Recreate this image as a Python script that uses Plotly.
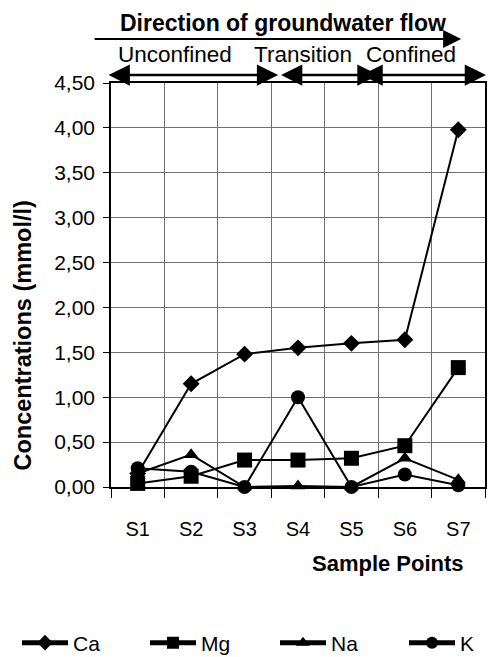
import plotly.graph_objects as go

samples = ["S1", "S2", "S3", "S4", "S5", "S6", "S7"]
ca = [0.15, 1.15, 1.48, 1.55, 1.60, 1.64, 3.98]
mg = [0.04, 0.12, 0.30, 0.30, 0.32, 0.46, 1.33]
na = [0.15, 0.36, 0.00, 0.01, 0.00, 0.32, 0.08]
k = [0.21, 0.17, 0.00, 1.00, 0.00, 0.14, 0.02]
yticks = [0, 0.5, 1.0, 1.5, 2.0, 2.5, 3.0, 3.5, 4.0, 4.5]

FONT = "Liberation Sans, Arial, sans-serif"
W, H = 489, 657
L, R, T, B = 111, 2, 83, 170
PW, PH = W - L - R, H - T - B


def px(xp):
    return (xp - L) / PW


def py(yp):
    return (H - B - yp) / PH


fig = go.Figure()
series = [("Ca", ca, "diamond", 13, "legend", 20),
          ("Mg", mg, "square", 15, "legend2", 148),
          ("Na", na, "triangle-up", 13, "legend3", 278),
          ("K", k, "circle", 14, "legend4", 407)]
legends = {}
for name, vals, sym, sz, lg, lx in series:
    fig.add_trace(go.Scatter(
        x=samples, y=vals, name=name, mode="lines+markers",
        line=dict(color="black", width=2),
        marker=dict(symbol=sym, size=sz, color="black"),
        cliponaxis=False, legend=lg,
    ))
    legends[lg] = dict(orientation="h", xref="container", yref="container",
                       x=(lx - 3) / W, y=(H - 643) / H,
                       xanchor="left", yanchor="middle",
                       font=dict(size=21, family=FONT, color="black"),
                       itemwidth=46, itemsizing="constant",
                       bgcolor="rgba(0,0,0,0)")

fig.update_layout(
    width=W, height=H,
    margin=dict(l=L, r=R, t=T, b=B),
    paper_bgcolor="white", plot_bgcolor="white",
    separators=",.",
    font=dict(family=FONT, color="black", size=18),
    showlegend=True,
    **legends,
)

fig.update_xaxes(
    type="category", categoryorder="array", categoryarray=samples,
    range=[-0.5, 6.5], tickson="boundaries",
    showgrid=True, gridcolor="#707070", gridwidth=1,
    showline=True, linecolor="black", linewidth=1.5, mirror=True,
    ticks="outside", ticklen=9, tickcolor="black",
    tickfont=dict(size=20), ticklabelstandoff=23,
)
fig.update_yaxes(
    range=[0, 4.5], tickvals=yticks, tickformat=".2f",
    showgrid=True, gridcolor="#707070", gridwidth=1,
    showline=True, linecolor="black", linewidth=1.5, mirror=True,
    ticks="outside", ticklen=6, tickcolor="black",
    tickfont=dict(size=21), ticklabelstandoff=4, zeroline=False,
)

ann = []
# axis titles
ann.append(dict(text="<b>Concentrations (mmol/l)</b>", xref="paper", yref="paper",
                x=px(23), y=py(335), textangle=-90, showarrow=False,
                font=dict(size=23.5), xanchor="center", yanchor="middle"))
ann.append(dict(text="<b>Sample Points</b>", xref="paper", yref="paper",
                x=px(389), y=py(563), showarrow=False,
                font=dict(size=22), xanchor="center", yanchor="middle"))
# top labels
ann.append(dict(text="<b>Direction of groundwater flow</b>", xref="paper", yref="paper",
                x=px(284), y=py(23), showarrow=False, font=dict(size=23),
                xanchor="center", yanchor="middle"))
for txt, cx in [("Unconfined", 175), ("Transition", 304), ("Confined", 413)]:
    ann.append(dict(text=txt, xref="paper", yref="paper", x=px(cx), y=py(55),
                    showarrow=False, font=dict(size=22.5),
                    xanchor="center", yanchor="middle"))
# flow arrow
ann.append(dict(text="", xref="paper", yref="paper", x=px(463), y=py(39),
                ax=95 - 463, ay=0, showarrow=True, arrowhead=2, arrowsize=1.8,
                arrowwidth=2, arrowcolor="black", arrowside="end"))
# zone double arrows
for a, b in [(108, 279), (281, 380), (362, 488)]:
    ann.append(dict(text="", xref="paper", yref="paper", x=px(b), y=py(75),
                    ax=a - b, ay=0, showarrow=True, arrowhead=2, startarrowhead=2,
                    arrowsize=1.7, startarrowsize=1.7,
                    arrowwidth=2.5, arrowcolor="black", arrowside="end+start"))
fig.update_layout(annotations=ann)

fig.write_html("out.html")
